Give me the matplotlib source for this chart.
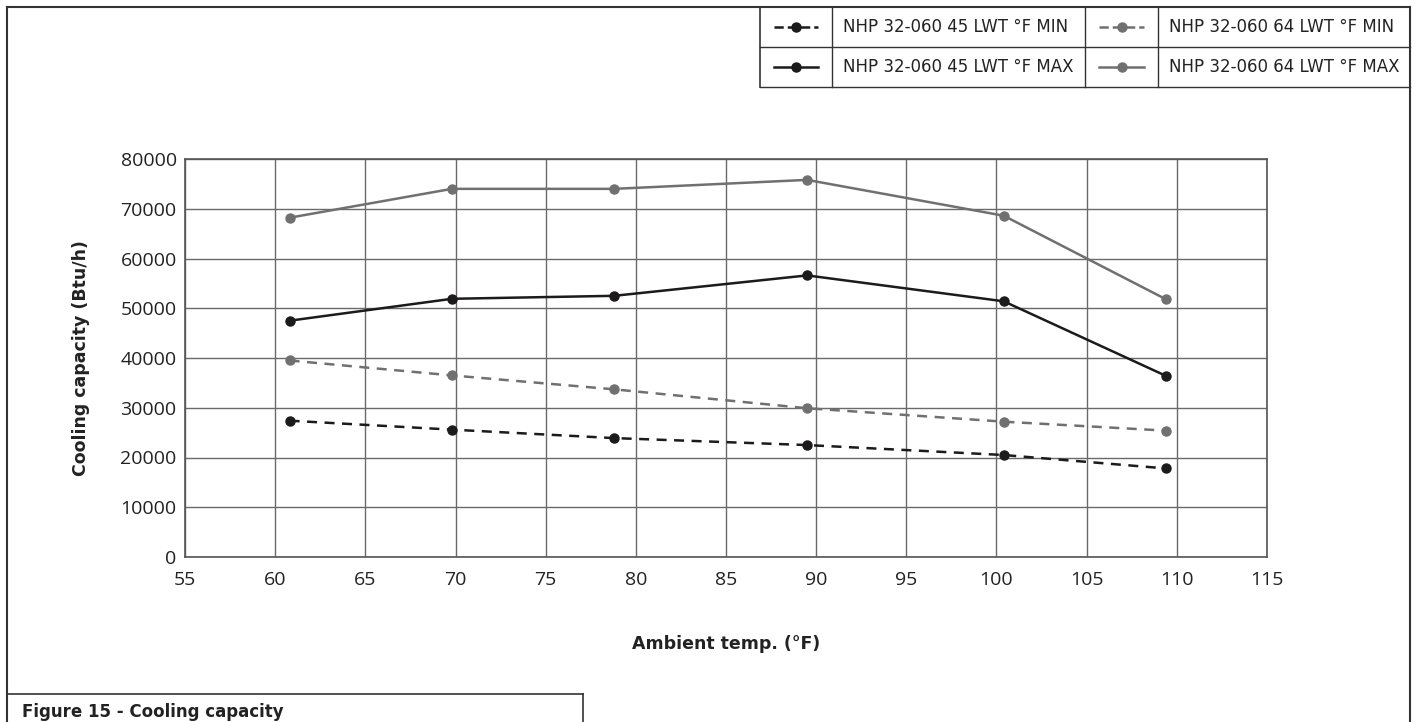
import matplotlib
matplotlib.use("Agg")
import matplotlib.pyplot as plt
from matplotlib.lines import Line2D

# ---- data ----
ambient_temp = [60.8, 69.8, 78.8, 89.5, 100.4, 109.4]
lwt45_min = [27400, 25600, 23900, 22500, 20500, 17800]
lwt64_min = [39500, 36500, 33700, 29900, 27200, 25400]
lwt45_max = [47500, 51900, 52500, 56600, 51400, 36400]
lwt64_max = [68200, 74000, 74000, 75800, 68600, 51800]

series_labels = ["NHP 32-060 45 LWT °F MIN", "NHP 32-060 64 LWT °F MIN",
                 "NHP 32-060 45 LWT °F MAX", "NHP 32-060 64 LWT °F MAX"]
x_ticks = list(range(55, 116, 5))
y_ticks = list(range(0, 80001, 10000))

BLACK = "#1c1a1b"
GRAY = "#707070"

W, H = 1415, 722
fig = plt.figure(figsize=(W / 100, H / 100), dpi=100)

def fx(px):
    return px / W

def fy(py):
    return 1 - py / H

ax = fig.add_axes([fx(185), fy(557), fx(1267) - fx(185), fy(159) - fy(557)])

styles = [
    (lwt45_min, BLACK, (0, (4, 3))),
    (lwt64_min, GRAY, (0, (4, 3))),
    (lwt45_max, BLACK, "-"),
    (lwt64_max, GRAY, "-"),
]
for (vals, col, ls), lab in zip(styles, series_labels):
    ax.plot(ambient_temp, vals, color=col, linestyle=ls, linewidth=1.8,
            marker="o", markersize=6.5, label=lab, zorder=3)

ax.set_xlim(55, 115)
ax.set_ylim(0, 80000)
ax.set_xticks(x_ticks)
ax.set_yticks(y_ticks)
ax.set_xticklabels([str(v) for v in x_ticks], fontsize=14, family="Open Sans", color="#222")
ax.set_yticklabels([str(v) for v in y_ticks], fontsize=14, family="Open Sans", color="#222")
ax.tick_params(axis="y", length=0, pad=6)
ax.tick_params(axis="x", length=0, pad=10)
ax.grid(True, color="#6a6a6a", linewidth=1.0)
ax.set_axisbelow(True)
for s in ax.spines.values():
    s.set_color("#555555")
    s.set_linewidth(1.2)

ax.set_xlabel("Ambient temp. (°F)", fontsize=12.5, fontweight="bold", family="DejaVu Sans",
              color="#222", labelpad=33)
ax.set_ylabel("Cooling capacity (Btu/h)", fontsize=12.5, fontweight="bold", family="DejaVu Sans",
              color="#222", labelpad=22)

# ---- outer frame ----
frame_col = "#333333"
fig.add_artist(Line2D([fx(7), fx(7)], [fy(7), fy(722)], color=frame_col, lw=1.5))
fig.add_artist(Line2D([fx(7), fx(1410)], [fy(7), fy(7)], color=frame_col, lw=1.5))
fig.add_artist(Line2D([fx(1410), fx(1410)], [fy(7), fy(722)], color=frame_col, lw=1.5))

# ---- legend table (top right) ----
lx = [760, 832, 1085, 1158, 1410]
ly = [7, 47, 87]
fig.add_artist(Line2D([fx(lx[0]), fx(lx[0])], [fy(ly[0]), fy(ly[2])], color=frame_col, lw=1.2))
for x in lx[1:4]:
    fig.add_artist(Line2D([fx(x), fx(x)], [fy(ly[0]), fy(ly[2])], color=frame_col, lw=1.0))
for y in ly[1:]:
    fig.add_artist(Line2D([fx(lx[0]), fx(lx[4])], [fy(y), fy(y)], color=frame_col, lw=1.0))

handles, labels = ax.get_legend_handles_labels()
cells = [(0, 0), (0, 1), (1, 0), (1, 1)]
for h, lab, (r, c) in zip(handles, labels, cells):
    x0, x1 = lx[2 * c], lx[2 * c + 1]
    yc = (ly[r] + ly[r + 1]) / 2
    fig.add_artist(Line2D([fx(x0 + 14), fx(x1 - 14)], [fy(yc), fy(yc)],
                          color=h.get_color(), linestyle=h.get_linestyle(),
                          linewidth=1.8, marker=None))
    fig.add_artist(Line2D([fx((x0 + x1) / 2)], [fy(yc)], color=h.get_color(),
                          marker="o", markersize=6.5, linestyle="none"))
    fig.text(fx(lx[2 * c + 1] + 11), fy(yc), lab, fontsize=12, family="DejaVu Sans",
             color="#222", va="center", ha="left")

# ---- figure caption box (bottom left) ----
fig.add_artist(Line2D([fx(7), fx(583)], [fy(694), fy(694)], color=frame_col, lw=1.2))
fig.add_artist(Line2D([fx(583), fx(583)], [fy(694), fy(722)], color=frame_col, lw=1.2))
fig.text(fx(22), fy(717), "Figure 15 - Cooling capacity", fontsize=12, fontweight="bold",
         family="DejaVu Sans", color="#222", va="baseline", ha="left")

fig.savefig("out.png", dpi=100)
